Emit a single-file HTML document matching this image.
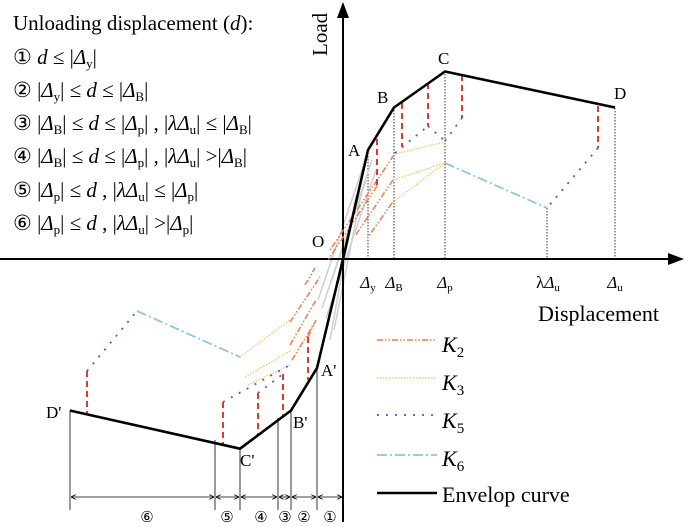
<!DOCTYPE html>
<html><head><meta charset="utf-8"><style>
html,body{margin:0;padding:0;background:#fff;}
svg{display:block;font-family:"Liberation Serif",serif;}
</style></head><body>
<svg id="chart" width="685" height="527" viewBox="0 0 685 527" xmlns="http://www.w3.org/2000/svg">
<defs>
<marker id="ah" markerWidth="8" markerHeight="8" refX="7" refY="4" orient="auto"><path d="M0,1 L8,4 L0,7 z" fill="#000"/></marker>
<marker id="da" markerWidth="6" markerHeight="6" refX="6" refY="3" orient="auto-start-reverse"><path d="M0,0 L6,3 L0,6" fill="none" stroke="#000" stroke-width="1"/></marker>
</defs>
<g font-size="21" fill="#000">
<text x="13" y="30">Unloading displacement (<tspan font-style="italic">d</tspan>):</text>
<text x="13" y="64">① <tspan font-style="italic">d</tspan> ≤ |<tspan font-style="italic">Δ</tspan><tspan font-size="13" dy="4">y</tspan><tspan dy="-4">|</tspan></text>
<text x="13" y="97">② |<tspan font-style="italic">Δ</tspan><tspan font-size="13" dy="4">y</tspan><tspan dy="-4">| ≤ </tspan><tspan font-style="italic">d</tspan> ≤ |<tspan font-style="italic">Δ</tspan><tspan font-size="13" dy="4">B</tspan><tspan dy="-4">|</tspan></text>
<text x="13" y="130">③ |<tspan font-style="italic">Δ</tspan><tspan font-size="13" dy="4">B</tspan><tspan dy="-4">| ≤ </tspan><tspan font-style="italic">d</tspan> ≤ |<tspan font-style="italic">Δ</tspan><tspan font-size="13" dy="4">p</tspan><tspan dy="-4">| , |</tspan><tspan font-style="italic">λΔ</tspan><tspan font-size="13" dy="4">u</tspan><tspan dy="-4">| ≤ |</tspan><tspan font-style="italic">Δ</tspan><tspan font-size="13" dy="4">B</tspan><tspan dy="-4">|</tspan></text>
<text x="13" y="163">④ |<tspan font-style="italic">Δ</tspan><tspan font-size="13" dy="4">B</tspan><tspan dy="-4">| ≤ </tspan><tspan font-style="italic">d</tspan> ≤ |<tspan font-style="italic">Δ</tspan><tspan font-size="13" dy="4">p</tspan><tspan dy="-4">| , |</tspan><tspan font-style="italic">λΔ</tspan><tspan font-size="13" dy="4">u</tspan><tspan dy="-4">| &gt;|</tspan><tspan font-style="italic">Δ</tspan><tspan font-size="13" dy="4">B</tspan><tspan dy="-4">|</tspan></text>
<text x="13" y="197">⑤ |<tspan font-style="italic">Δ</tspan><tspan font-size="13" dy="4">p</tspan><tspan dy="-4">| ≤ </tspan><tspan font-style="italic">d</tspan>  , |<tspan font-style="italic">λΔ</tspan><tspan font-size="13" dy="4">u</tspan><tspan dy="-4">| ≤ |</tspan><tspan font-style="italic">Δ</tspan><tspan font-size="13" dy="4">p</tspan><tspan dy="-4">|</tspan></text>
<text x="13" y="230">⑥ |<tspan font-style="italic">Δ</tspan><tspan font-size="13" dy="4">p</tspan><tspan dy="-4">| ≤ </tspan><tspan font-style="italic">d</tspan>  , |<tspan font-style="italic">λΔ</tspan><tspan font-size="13" dy="4">u</tspan><tspan dy="-4">| &gt;|</tspan><tspan font-style="italic">Δ</tspan><tspan font-size="13" dy="4">p</tspan><tspan dy="-4">|</tspan></text>
</g>

<g stroke="#000" stroke-width="0.8" stroke-dasharray="1.5,1.5" fill="none">
<line x1="368" y1="150" x2="368" y2="259"/><line x1="394" y1="107" x2="394" y2="259"/>
<line x1="445" y1="71" x2="445" y2="259"/><line x1="547" y1="208" x2="547" y2="259"/>
<line x1="615" y1="108" x2="615" y2="259"/>
</g>
<g stroke="#cfcfcf" stroke-width="1.5">
<line x1="368" y1="152" x2="318" y2="300"/><line x1="372" y1="160" x2="322" y2="308"/>
<line x1="376" y1="170" x2="326" y2="318"/><line x1="366" y1="180" x2="330" y2="285"/>
<line x1="362" y1="190" x2="334" y2="330"/><line x1="356" y1="195" x2="330" y2="340"/>
</g>

<g stroke="#000" stroke-width="2" fill="none">
<line x1="0" y1="259" x2="682" y2="259" marker-end="url(#ah)"/>
<line x1="343" y1="522" x2="343" y2="4" marker-end="url(#ah)"/>
</g>

<g stroke="#f07a4a" stroke-width="1.5" stroke-dasharray="6,2,1.5,2,1.5,2" fill="none">
<line x1="377" y1="186" x2="328" y2="260"/><line x1="394" y1="155" x2="330" y2="250"/>
<line x1="393" y1="180" x2="355" y2="236"/><line x1="392" y1="203" x2="366" y2="240"/>
<line x1="290" y1="322" x2="320" y2="277"/><line x1="290" y1="345" x2="316" y2="300"/>
<line x1="292" y1="360" x2="315" y2="322"/><line x1="308" y1="337" x2="316" y2="320"/>
<line x1="305" y1="285" x2="315" y2="268"/>
</g>
<g stroke="#f7c05a" stroke-width="1.2" stroke-dasharray="1.5,1.5" fill="none">
<line x1="395" y1="154" x2="445" y2="142"/><line x1="393" y1="180" x2="445" y2="163"/>
<line x1="392" y1="203" x2="445" y2="163"/>
<line x1="240" y1="357" x2="290" y2="320"/><line x1="245" y1="377" x2="292" y2="350"/>
<line x1="248" y1="385" x2="290" y2="365"/>
</g>
<g stroke="#3a66c4" stroke-width="1.8" stroke-dasharray="2,7" fill="none">
<line x1="395" y1="153" x2="428" y2="126"/><line x1="428" y1="126" x2="445" y2="141"/>
<line x1="445" y1="141" x2="462" y2="118"/><line x1="598" y1="148" x2="547" y2="208"/>
<line x1="87" y1="371" x2="137" y2="311"/><line x1="223" y1="402" x2="290" y2="365"/>
<line x1="258" y1="393" x2="283" y2="374"/>
</g>
<g stroke="#8ec3e8" stroke-width="1.8" stroke-dasharray="10,3,2,3" fill="none">
<line x1="445" y1="163" x2="547" y2="208"/><line x1="137" y1="311" x2="240" y2="357"/>
</g>
<g stroke="#e03a30" stroke-width="2" stroke-dasharray="6,4" fill="none">
<line x1="377" y1="139" x2="377" y2="187"/><line x1="402" y1="103" x2="402" y2="147"/>
<line x1="428" y1="83" x2="428" y2="126"/><line x1="462" y1="75" x2="462" y2="118"/>
<line x1="598" y1="106" x2="598" y2="148"/>
<line x1="87" y1="371" x2="87" y2="413"/><line x1="223" y1="402" x2="223" y2="445"/>
<line x1="258" y1="393" x2="258" y2="435"/><line x1="283" y1="374" x2="283" y2="417"/>
<line x1="308" y1="337" x2="308" y2="380"/>
</g>

<g stroke="#000" stroke-width="0.8" fill="none">
<line x1="70" y1="411" x2="70" y2="510"/><line x1="215" y1="440" x2="215" y2="510"/>
<line x1="240" y1="449" x2="240" y2="510"/><line x1="278" y1="418" x2="278" y2="510"/>
<line x1="291" y1="411" x2="291" y2="510"/><line x1="317" y1="368" x2="317" y2="510"/>
<line x1="71" y1="497" x2="214" y2="497" marker-start="url(#da)" marker-end="url(#da)"/>
<line x1="216" y1="497" x2="239" y2="497" marker-start="url(#da)" marker-end="url(#da)"/>
<line x1="241" y1="497" x2="277" y2="497" marker-start="url(#da)" marker-end="url(#da)"/>
<line x1="279" y1="497" x2="290" y2="497" marker-start="url(#da)" marker-end="url(#da)"/>
<line x1="292" y1="497" x2="316" y2="497" marker-start="url(#da)" marker-end="url(#da)"/>
<line x1="318" y1="497" x2="342" y2="497" marker-start="url(#da)" marker-end="url(#da)"/>
</g>
<g font-size="15" text-anchor="middle" fill="#000">
<text x="147" y="522">⑥</text><text x="227" y="522">⑤</text><text x="261" y="522">④</text>
<text x="285" y="522">③</text><text x="304" y="522">②</text><text x="330" y="522">①</text>
</g>

<path id="env" fill="none" stroke="#000" stroke-width="2.6" stroke-linejoin="round"/>

<g font-size="17" fill="#000">
<text x="348" y="156">A</text><text x="377" y="103">B</text><text x="438" y="64">C</text>
<text x="614" y="99">D</text><text x="312" y="247">O</text>
<text x="321" y="376">A'</text><text x="293" y="428">B'</text><text x="240" y="466">C'</text><text x="46" y="418">D'</text>
</g>
<g font-size="17" fill="#000" text-anchor="middle">
<text x="368" y="288"><tspan font-style="italic">Δ</tspan><tspan font-size="11" dy="3">y</tspan></text>
<text x="394" y="288"><tspan font-style="italic">Δ</tspan><tspan font-size="11" dy="3">B</tspan></text>
<text x="445" y="288"><tspan font-style="italic">Δ</tspan><tspan font-size="11" dy="3">p</tspan></text>
<text x="548" y="288">λ<tspan font-style="italic">Δ</tspan><tspan font-size="11" dy="3">u</tspan></text>
<text x="615" y="288"><tspan font-style="italic">Δ</tspan><tspan font-size="11" dy="3">u</tspan></text>
</g>
<text x="538" y="321" font-size="22">Displacement</text>
<text transform="translate(327,56) rotate(-90)" font-size="21">Load</text>

<g>
<g><line x1="377" y1="340" x2="437" y2="340" stroke="#f07a4a" stroke-width="1.5" stroke-dasharray="6,2,1.5,2,1.5,2"/><text x="442" y="352" font-size="22"><tspan font-style="italic">K</tspan><tspan font-size="15" dy="5">2</tspan></text></g>
<g><line x1="377" y1="378" x2="437" y2="378" stroke="#f7c05a" stroke-width="1.2" stroke-dasharray="1.5,1.5"/><text x="442" y="390" font-size="22"><tspan font-style="italic">K</tspan><tspan font-size="15" dy="5">3</tspan></text></g>
<g><line x1="377" y1="415" x2="437" y2="415" stroke="#3a66c4" stroke-width="1.8" stroke-dasharray="2,7"/><text x="442" y="428" font-size="22"><tspan font-style="italic">K</tspan><tspan font-size="15" dy="5">5</tspan></text></g>
<g><line x1="377" y1="455" x2="437" y2="455" stroke="#8ec3e8" stroke-width="1.8" stroke-dasharray="10,3,2,3"/><text x="442" y="466" font-size="22"><tspan font-style="italic">K</tspan><tspan font-size="15" dy="5">6</tspan></text></g>
<g><line x1="377" y1="493" x2="437" y2="493" stroke="#000" stroke-width="2.6"/><text x="442" y="502" font-size="22">Envelop curve</text></g>
</g>
</svg>
<script>
// Envelope curve points (displacement, load) in model units
const envDisp = [-10.5, -3.8, -1.8, -1.0, 0, 1.0, 2.0, 4.0, 10.5];
const envLoad = [-1.39, -1.74, -1.39, -1.0, 0, 1.0, 1.39, 1.72, 1.39];
const x0 = 343, y0 = 259;
function xs(d){ return d >= 0 ? x0 + (d <= 1 ? d*25 : d <= 2 ? 25 + (d-1)*26 : d <= 4 ? 51 + (d-2)*25.5 : 102 + (d-4)*26.15)
                              : x0 + (d >= -1 ? d*26 : d >= -1.8 ? -26 + (d+1)*32.5 : d >= -3.8 ? -52 + (d+1.8)*25.5 : -103 + (d+3.8)*25.4); }
function ys(l){ return y0 - l*109; }
const env = document.getElementById('env');
env.setAttribute('d', envDisp.map((d,i)=>(i?'L':'M')+xs(d).toFixed(1)+','+ys(envLoad[i]).toFixed(1)).join(' '));
</script>
</body></html>
